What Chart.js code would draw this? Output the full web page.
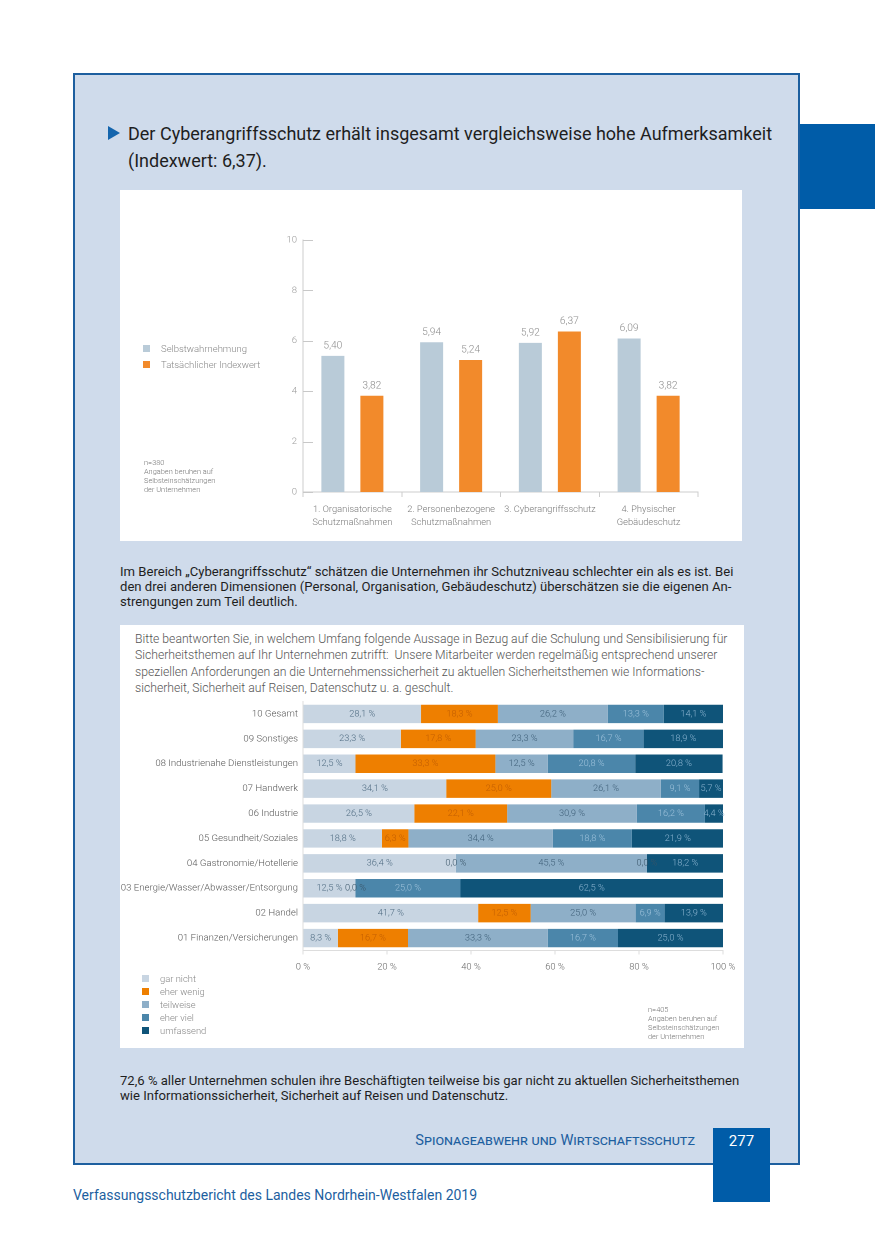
<!DOCTYPE html>
<html lang="de">
<head>
<meta charset="utf-8">
<title>Cyberangriffsschutz</title>
<script src="https://cdn.jsdelivr.net/npm/chart.js@4.4.1/dist/chart.umd.min.js"></script>
<style>
  html, body { margin: 0; padding: 0; background: #fff; }
  body { width: 875px; height: 1241px; position: relative; overflow: hidden; font-family: Roboto, "Liberation Sans", sans-serif; }
  .abs { position: absolute; }
  #frame { left: 73px; top: 73px; width: 723px; height: 1088px; background: #cfdbeb; border: 2px solid #1d5f9f; }
  #tab { left: 800px; top: 124px; width: 75px; height: 85px; background: #005ca8; }
  #head { left: 108px; top: 120px; font-size: 18px; line-height: 27px; color: #1e1e1e; white-space: nowrap; }
  #head .tri { position: absolute; left: 0; top: 6px; width: 0; height: 0; border-top: 7px solid transparent; border-bottom: 7px solid transparent; border-left: 12px solid #1465ad; }
  #head .txt { position: absolute; left: 20px; top: 0; }
  .box { background: #fff; }
  #box1 { left: 120px; top: 190px; width: 622px; height: 351px; }
  #box2 { left: 120px; top: 625px; width: 624px; height: 423px; }
  .para { font-size: 13.1px; line-height: 15px; color: #1e1e1e; white-space: nowrap; }
  #p1 { left: 120px; top: 564px; }
  #p2 { left: 120px; top: 1073px; }
  #q { left: 135px; top: 631px; font-size: 12.2px; line-height: 16.3px; color: #555; font-weight: 300; white-space: nowrap; }
  .leg { color: #888; font-weight: 300; white-space: nowrap; }
  .leg .sq { display: inline-block; width: 7px; height: 7px; margin-right: 11px; }
  .note { font-size: 7.4px; line-height: 9px; color: #777; font-weight: 300; white-space: nowrap; }
  #foot { left: 395px; top: 1131px; width: 300px; text-align: right; font-size: 14.6px; color: #1d5f9f; font-variant: small-caps; white-space: nowrap; }
  #pnum { left: 713px; top: 1128px; width: 57px; height: 74px; background: #005ca8; color: #fff; font-size: 15px; text-align: center; line-height: 26px; }
  #src { left: 73px; top: 1187px; font-size: 14px; color: #1d5f9f; white-space: nowrap; }
</style>
</head>
<body>
<div id="frame" class="abs"></div>
<div id="tab" class="abs"></div>

<div id="head" class="abs"><span class="tri"></span><span class="txt">Der Cyberangriffsschutz erhält insgesamt vergleichsweise hohe Aufmerksamkeit<br>(Indexwert: 6,37).</span></div>

<div id="box1" class="abs box"></div>
<canvas id="chartIndex" class="abs" style="left:120px;top:190px;width:622px;height:351px"></canvas>
<div class="abs leg" style="left:143px;top:343px;font-size:9.5px">
  <div style="height:16px"><span class="sq" style="background:#b9cbd8"></span>Selbstwahrnehmung</div>
  <div style="height:16px"><span class="sq" style="background:#f28a2b"></span>Tatsächlicher Indexwert</div>
</div>
<div class="abs note" style="left:144px;top:458px">n=380<br>Angaben beruhen auf<br>Selbsteinschätzungen<br>der Unternehmen</div>

<div id="p1" class="abs para">Im Bereich „Cyberangriffsschutz“ schätzen die Unternehmen ihr Schutzniveau schlechter ein als es ist. Bei<br>den drei anderen Dimensionen (Personal, Organisation, Gebäudeschutz) überschätzen sie die eigenen An-<br>strengungen zum Teil deutlich.</div>

<div id="box2" class="abs box"></div>
<div id="q" class="abs">Bitte beantworten Sie, in welchem Umfang folgende Aussage in Bezug auf die Schulung und Sensibilisierung für<br>Sicherheitsthemen auf Ihr Unternehmen zutrifft:&nbsp; Unsere Mitarbeiter werden regelmäßig entsprechend unserer<br>speziellen Anforderungen an die Unternehmenssicherheit zu aktuellen Sicherheitsthemen wie Informations-<br>sicherheit, Sicherheit auf Reisen, Datenschutz u. a. geschult.</div>
<canvas id="chartSchulung" class="abs" style="left:120px;top:625px;width:624px;height:423px"></canvas>
<div class="abs leg" style="left:142px;top:973px;font-size:9.4px">
  <div style="height:13px"><span class="sq" style="background:#c8d5e2"></span>gar nicht</div>
  <div style="height:13px"><span class="sq" style="background:#ee7f00"></span>eher wenig</div>
  <div style="height:13px"><span class="sq" style="background:#8eafc8"></span>teilweise</div>
  <div style="height:13px"><span class="sq" style="background:#4b86aa"></span>eher viel</div>
  <div style="height:13px"><span class="sq" style="background:#0f5479"></span>umfassend</div>
</div>
<div class="abs note" style="left:648px;top:1005px">n=405<br>Angaben beruhen auf<br>Selbsteinschätzungen<br>der Unternehmen</div>

<div id="p2" class="abs para">72,6 % aller Unternehmen schulen ihre Beschäftigten teilweise bis gar nicht zu aktuellen Sicherheitsthemen<br>wie Informationssicherheit, Sicherheit auf Reisen und Datenschutz.</div>

<div id="foot" class="abs">Spionageabwehr und Wirtschaftsschutz</div>
<div id="pnum" class="abs">277</div>
<div id="src" class="abs">Verfassungsschutzbericht des Landes Nordrhein-Westfalen 2019</div>

<script>
// --- Chart 1: Selbstwahrnehmung vs. Indexwert
const dimensionen = [
  ["1. Organisatorische", "Schutzmaßnahmen"],
  ["2. Personenbezogene", "Schutzmaßnahmen"],
  "3. Cyberangriffsschutz",
  ["4. Physischer", "Gebäudeschutz"]
];
const selbstwahrnehmung = [5.40, 5.94, 5.92, 6.09];
const indexwert = [3.82, 5.24, 6.37, 3.82];

// --- Chart 2: Schulung nach Branche
const branchen = [
  "10 Gesamt",
  "09 Sonstiges",
  "08 Industrienahe Dienstleistungen",
  "07 Handwerk",
  "06 Industrie",
  "05 Gesundheit/Soziales",
  "04 Gastronomie/Hotellerie",
  "03 Energie/Wasser/Abwasser/Entsorgung",
  "02 Handel",
  "01 Finanzen/Versicherungen"
];
const garNicht  = [28.1, 23.3, 12.5, 34.1, 26.5, 18.8, 36.4, 12.5, 41.7, 8.3];
const eherWenig = [18.3, 17.8, 33.3, 25.0, 22.1, 6.3, 0.0, 0.0, 12.5, 16.7];
const teilweise = [26.2, 23.3, 12.5, 26.1, 30.9, 34.4, 45.5, null, 25.0, 33.3];
const eherViel  = [13.3, 16.7, 20.8, 9.1, 16.2, 18.8, 0.0, 25.0, 6.9, 16.7];
const umfassend = [14.1, 18.9, 20.8, 5.7, 4.4, 21.9, 18.2, 62.5, 13.9, 25.0];
const prozentTicks = [0, 20, 40, 60, 80, 100];

const fontFam = "Roboto, 'Liberation Sans', sans-serif";
const de = (v, d) => v.toFixed(d).replace(".", ",");

Chart.defaults.font.family = fontFam;
Chart.defaults.animation = false;

// Werte über den Säulen
const topLabels = {
  id: "topLabels",
  afterDatasetsDraw(chart){
    const ctx = chart.ctx;
    ctx.save();
    ctx.font = "300 10.2px " + fontFam;
    ctx.fillStyle = "#8a8a8a";
    ctx.textAlign = "center";
    ctx.textBaseline = "middle";
    chart.data.datasets.forEach((ds, i) => {
      chart.getDatasetMeta(i).data.forEach((el, j) => {
        ctx.fillText(de(ds.data[j], 2), el.x, el.y - 10);
      });
    });
    ctx.restore();
  }
};

// kurze Striche rechts der y-Achse
const yMarks = {
  id: "yMarks",
  afterDraw(chart){
    const y = chart.scales.y, ctx = chart.ctx;
    ctx.save();
    ctx.strokeStyle = "#c8c8c8";
    ctx.lineWidth = 1;
    for (let v = 0; v <= 10; v += 2){
      const py = Math.round(y.getPixelForValue(v)) + 0.5;
      ctx.beginPath();
      ctx.moveTo(y.right, py);
      ctx.lineTo(y.right + 10, py);
      ctx.stroke();
    }
    ctx.restore();
  }
};

new Chart(document.getElementById("chartIndex"), {
  type: "bar",
  data: {
    labels: dimensionen,
    datasets: [
      { label: "Selbstwahrnehmung", data: selbstwahrnehmung, backgroundColor: "#b9cbd8" },
      { label: "Tatsächlicher Indexwert", data: indexwert, backgroundColor: "#f28a2b" }
    ]
  },
  options: {
    responsive: false,
    devicePixelRatio: 2,
    categoryPercentage: 0.79,
    barPercentage: 0.59,
    layout: { padding: { left: 143, top: 50, right: 44, bottom: 0 } },
    plugins: { legend: { display: false }, tooltip: { enabled: false } },
    scales: {
      x: {
        grid: { drawOnChartArea: false, drawTicks: true, tickLength: 5, color: "#cccccc" },
        border: { color: "#cccccc" },
        ticks: { autoSkip: false, color: "#777", font: { size: 9.3, weight: "300", lineHeight: 1.4 }, padding: 6, maxRotation: 0, minRotation: 0 },
        afterFit(s){ s.height = 49; }
      },
      y: {
        min: 0, max: 10,
        ticks: { stepSize: 2, color: "#999", font: { size: 9.5, weight: "300" }, padding: 6 },
        grid: { display: false, drawTicks: false },
        border: { display: true, color: "#cccccc" },
        afterFit(s){ s.width = 40; }
      }
    }
  },
  plugins: [topLabels, yMarks]
});

// Prozentwerte in den Segmenten
const labelColors = ["#4d6a80", "#c25e00", "#3e5f78", "#9fc3dc", "#8fb7d3"];
const segLabels = {
  id: "segLabels",
  afterDatasetsDraw(chart){
    const ctx = chart.ctx;
    ctx.save();
    ctx.font = "300 9.2px " + fontFam;
    ctx.textAlign = "center";
    ctx.textBaseline = "middle";
    chart.data.datasets.forEach((ds, i) => {
      chart.getDatasetMeta(i).data.forEach((el, j) => {
        const v = ds.data[j];
        if (v == null) return;
        if (v === 0){
          ctx.fillStyle = "#3a5568";
          ctx.fillText("0,0 %", el.base, el.y);
          return;
        }
        ctx.fillStyle = labelColors[i];
        ctx.fillText(de(v, 1) + " %", (el.x + el.base) / 2, el.y);
      });
    });
    ctx.restore();
  }
};

new Chart(document.getElementById("chartSchulung"), {
  type: "bar",
  data: {
    labels: branchen,
    datasets: [
      { label: "gar nicht", data: garNicht, backgroundColor: "#c8d5e2" },
      { label: "eher wenig", data: eherWenig, backgroundColor: "#ee7f00" },
      { label: "teilweise", data: teilweise, backgroundColor: "#8eafc8" },
      { label: "eher viel", data: eherViel, backgroundColor: "#4b86aa" },
      { label: "umfassend", data: umfassend, backgroundColor: "#0f5479" }
    ]
  },
  options: {
    indexAxis: "y",
    responsive: false,
    devicePixelRatio: 2,
    categoryPercentage: 1,
    barPercentage: 0.74,
    layout: { padding: { left: 0, top: 76.5, right: 21, bottom: 0 } },
    plugins: { legend: { display: false }, tooltip: { enabled: false } },
    scales: {
      x: {
        stacked: true, min: 0, max: 100,
        afterBuildTicks(s){ s.ticks = prozentTicks.map(v => ({ value: v })); },
        ticks: { callback: v => v + " %", color: "#666", font: { size: 9.4, weight: "300" }, padding: 7 },
        grid: { drawOnChartArea: false, drawTicks: true, tickLength: 4, color: "#dddddd" },
        border: { color: "#dddddd" },
        afterFit(s){ s.height = 97.5; }
      },
      y: {
        stacked: true,
        ticks: { autoSkip: false, color: "#555", font: { size: 9.6, weight: "300" }, padding: 5 },
        grid: { display: false, drawTicks: false },
        border: { display: true, color: "#dddddd" },
        afterFit(s){ s.width = 183; }
      }
    }
  },
  plugins: [segLabels]
});
</script>
</body>
</html>
